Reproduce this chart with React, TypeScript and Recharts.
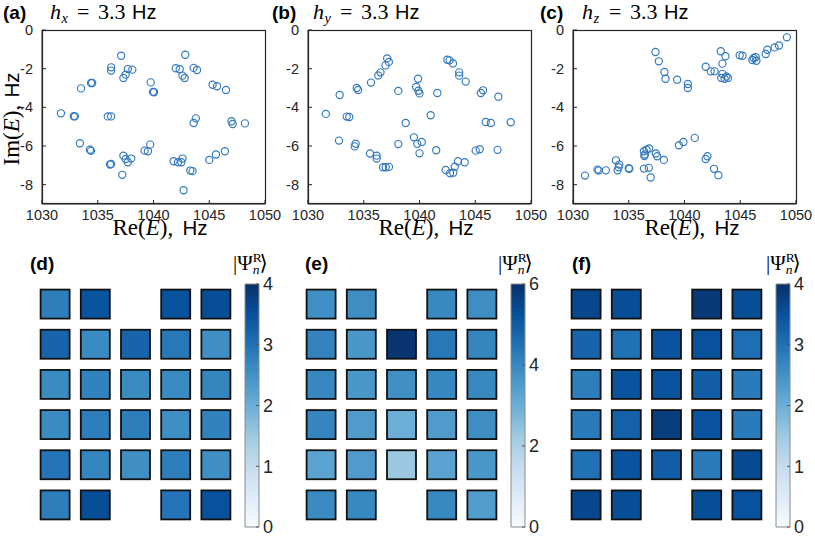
import React from 'react'
import { ScatterChart, Scatter, XAxis, YAxis, BarChart, Bar } from 'recharts'

// eigenvalues (Re E, Im E) in Hz
const hxSpectrum: [number, number][] = [
    [1037.1, -1.33], [1036.2, -1.93], [1036.2, -2.1], [1037.7, -2.02], [1038.1, -2.05], [1037.5, -2.31],
    [1037.3, -2.48], [1033.5, -3.02], [1034.4, -2.74], [1034.5, -2.74], [1039.75, -2.71], [1039.95, -3.2],
    [1040.05, -3.22], [1031.7, -4.31], [1032.85, -4.46], [1032.95, -4.47], [1035.9, -4.47], [1036.2, -4.47],
    [1033.4, -5.86], [1034.3, -6.19], [1034.4, -6.25], [1036.1, -6.96], [1036.2, -6.93], [1037.2, -7.49],
    [1037.3, -6.5], [1037.5, -6.67], [1037.7, -6.84], [1038.0, -6.65], [1039.2, -6.24], [1039.5, -6.27],
    [1039.7, -5.93], [1042.85, -1.28], [1042.0, -1.98], [1042.35, -2.03], [1042.6, -2.36], [1042.8, -2.48],
    [1043.6, -1.96], [1043.9, -2.07], [1045.3, -2.83], [1045.7, -2.91], [1046.5, -3.1], [1043.8, -4.57],
    [1043.6, -4.81], [1047.0, -4.72], [1047.1, -4.86], [1048.2, -4.83], [1041.8, -6.79], [1042.2, -6.84],
    [1042.5, -6.84], [1042.6, -6.65], [1043.3, -7.27], [1043.5, -7.3], [1042.7, -8.29], [1045.0, -6.72],
    [1045.6, -6.44], [1046.4, -6.27],
]

const hySpectrum: [number, number][] = [
    [1037.1, -1.47], [1037.25, -1.65], [1036.95, -1.83], [1036.5, -2.19], [1036.3, -2.35], [1035.65, -2.72],
    [1034.37, -3.0], [1034.5, -3.1], [1032.84, -3.36], [1031.6, -4.34], [1033.47, -4.48], [1033.7, -4.5],
    [1038.1, -3.15], [1038.76, -4.81], [1039.87, -2.52], [1039.7, -2.95], [1039.9, -3.14], [1040.0, -3.28],
    [1041.6, -3.26], [1041.0, -4.41], [1042.5, -1.54], [1042.7, -1.57], [1043.0, -1.73], [1043.56, -2.19],
    [1043.56, -2.36], [1044.14, -2.67], [1045.5, -3.26], [1045.7, -3.12], [1047.07, -3.45], [1045.94, -4.76],
    [1046.4, -4.81], [1048.18, -4.77], [1032.78, -5.72], [1034.27, -5.88], [1034.19, -6.02], [1035.56, -6.39],
    [1036.16, -6.5], [1036.16, -6.65], [1036.73, -7.1], [1036.97, -7.1], [1037.26, -7.08], [1038.1, -5.9],
    [1039.5, -5.55], [1039.8, -5.89], [1040.2, -5.79], [1040.0, -6.38], [1041.5, -6.22], [1042.35, -7.24],
    [1042.74, -7.41], [1043.03, -7.38], [1043.16, -7.07], [1043.45, -6.79], [1044.05, -6.84], [1045.04, -6.24],
    [1045.4, -6.17], [1047.0, -6.2],
]

const hzSpectrum: [number, number][] = [
    [1037.4, -1.14], [1037.7, -1.62], [1038.2, -2.17], [1038.3, -2.52], [1039.34, -2.57], [1040.3, -2.79],
    [1040.3, -3.0], [1041.9, -1.9], [1042.35, -2.14], [1042.7, -2.14], [1043.25, -1.1], [1043.67, -1.36],
    [1043.4, -1.74], [1043.4, -2.27], [1043.3, -2.48], [1043.76, -2.4], [1043.9, -2.48], [1043.6, -2.52],
    [1044.95, -1.31], [1045.2, -1.33], [1046.09, -1.55], [1046.38, -1.4], [1046.45, -1.59], [1046.2, -1.45],
    [1047.28, -1.24], [1047.43, -1.02], [1048.08, -0.9], [1048.47, -0.8], [1049.18, -0.38],
    [1031.07, -7.53], [1032.2, -7.22], [1032.3, -7.27], [1032.95, -7.26], [1033.85, -6.74], [1034.15, -6.96],
    [1034.0, -7.26], [1034.1, -7.1], [1035.0, -7.15], [1035.05, -7.18], [1036.36, -7.17], [1036.45, -6.44],
    [1036.4, -6.52], [1036.36, -6.27], [1036.6, -6.19], [1036.83, -6.13], [1036.8, -7.13], [1036.96, -7.63],
    [1037.43, -6.39], [1037.55, -6.53], [1038.15, -6.72], [1039.5, -5.96], [1039.9, -5.79], [1040.92, -5.58],
    [1041.9, -6.67], [1042.06, -6.53], [1042.65, -7.18], [1043.04, -7.51],
]

const reTicks = [1030, 1035, 1040, 1045, 1050]
const imTicks = [-8, -6, -4, -2, 0]

// |Psi_n^R> on the 6x5 lattice, null = no site
const ampX: (number | null)[][] = [
    [2.8, 3.45, null, 3.5, 3.55],
    [3.2, 2.6, 3.2, 2.9, 2.55],
    [2.6, 2.75, 2.6, 2.6, 2.7],
    [2.6, 2.8, 2.8, 2.55, 2.75],
    [2.95, 2.7, 2.55, 2.8, 2.55],
    [2.8, 3.55, null, 2.95, 3.5],
]
const ampY: (number | null)[][] = [
    [3.8, 3.85, null, 3.95, 3.85],
    [4.1, 3.6, 5.9, 4.35, 4.05],
    [4.0, 3.6, 3.8, 4.0, 3.95],
    [4.05, 3.5, 3.0, 3.5, 3.85],
    [3.3, 3.5, 2.3, 3.3, 3.6],
    [3.9, 3.95, null, 3.95, 3.45],
]
const ampZ: (number | null)[][] = [
    [3.65, 3.55, null, 3.85, 3.55],
    [3.2, 3.0, 3.45, 3.5, 3.05],
    [2.8, 3.45, 3.45, 3.3, 2.85],
    [2.85, 3.25, 3.8, 3.45, 2.85],
    [3.0, 3.45, 3.3, 2.85, 3.6],
    [3.65, 3.55, null, 3.55, 3.5],
]
const cbTicksX = [0, 1, 2, 3, 4]
const cbTicksY = [0, 2, 4, 6]
const cbTicksZ = [0, 1, 2, 3, 4]

const SERIF = '"Liberation Serif", "DejaVu Serif", serif'
const SANS = '"Liberation Sans", Arial, sans-serif'
const AX = '#262626'
const MARK = '#3178bd'
const BLUES = ['#f7fbff', '#deebf7', '#c6dbef', '#9ecae1', '#6baed6', '#4292c6', '#2171b5', '#08519c', '#08306b']

const hex = (c: string) => [1, 3, 5].map(i => parseInt(c.slice(i, i + 2), 16))
const blues = (t: number) => {
    const s = Math.max(0, Math.min(1, t)) * (BLUES.length - 1)
    const i = Math.min(Math.floor(s), BLUES.length - 2)
    const f = s - i
    const a = hex(BLUES[i]), b = hex(BLUES[i + 1])
    return `rgb(${a.map((v, k) => Math.round(v + (b[k] - v) * f)).join(',')})`
}

const ring = (p: any) => <circle cx={p.cx} cy={p.cy} r={3.6} fill="none" stroke={MARK} strokeWidth={1.15} />

const tickFont = { fill: AX, fontSize: 14.5, fontFamily: SANS }

const SpectrumPanel = ({ plotLeft, pts }: { plotLeft: number; pts: [number, number][] }) => {
    const data = pts.map(([re, im]) => ({ re, im }))
    const left = plotLeft - 42
    const width = Math.min(287, 815 - left)
    return (
        <div style={{ position: 'absolute', left, top: 0 }}>
            <ScatterChart width={width} height={250} margin={{ top: 30, right: width - 265, bottom: 0, left: 12 }}>
                <XAxis dataKey="re" type="number" domain={[1030, 1050]} ticks={reTicks} height={46}
                    interval={0} tickSize={-4} tickMargin={10} stroke={AX} tick={tickFont} allowDataOverflow />
                <YAxis dataKey="im" type="number" domain={[-9, 0]} ticks={imTicks} width={30}
                    interval={0} tickSize={-4} tickMargin={13} stroke={AX} tick={tickFont} allowDataOverflow />
                <XAxis xAxisId="t" orientation="top" type="number" domain={[1030, 1050]} ticks={reTicks} height={0}
                    interval={0} tickSize={-4} stroke={AX} tick={false} allowDataOverflow />
                <YAxis yAxisId="r" orientation="right" type="number" domain={[-9, 0]} ticks={imTicks} width={0}
                    interval={0} tickSize={-4} stroke={AX} tick={false} allowDataOverflow />
                <Scatter data={data} shape={ring} isAnimationActive={false} />
            </ScatterChart>
        </div>
    )
}

const HeatPanel = ({ left, grid, max, cbLeft, cbTicks, id }:
    { left: number; grid: (number | null)[][]; max: number; cbLeft: number; cbTicks: number[]; id: string }) => {
    const cells: { col: number; row: number; v: number }[] = []
    grid.forEach((r, i) => r.forEach((v, j) => { if (v != null) cells.push({ col: j + 1, row: i + 1, v }) }))
    const square = (p: any) => (
        <rect x={p.cx - 14.5} y={p.cy - 14.5} width={29} height={29} fill={blues(p.payload.v / max)}
            stroke="#111" strokeWidth={1.8} />
    )
    return (
        <>
            <div style={{ position: 'absolute', left: left - 5, top: 270 }}>
                <ScatterChart width={211} height={266} margin={{ top: 14, right: 5, bottom: 11, left: 5 }}>
                    <XAxis dataKey="col" type="number" domain={[0.5, 5.5]} hide />
                    <YAxis dataKey="row" type="number" domain={[0.5, 6.5]} reversed hide />
                    <Scatter data={cells} shape={square} isAnimationActive={false} />
                </ScatterChart>
            </div>
            <div style={{ position: 'absolute', left: cbLeft - 5, top: 270 }}>
                <BarChart width={44} height={266} data={[{ name: 'cb', v: max }]} barCategoryGap={0}
                    margin={{ top: 14, right: 0, bottom: 9, left: 5 }}>
                    <defs>
                        <linearGradient id={id} x1="0" y1="1" x2="0" y2="0">
                            {BLUES.map((c, i) => <stop key={i} offset={i / (BLUES.length - 1)} stopColor={c} />)}
                        </linearGradient>
                    </defs>
                    <XAxis dataKey="name" hide />
                    <YAxis orientation="right" type="number" domain={[0, max]} ticks={cbTicks} width={25}
                        interval={0} axisLine={false} tickSize={-3} tickMargin={7} stroke="#555"
                        tick={{ fill: AX, fontSize: 18, fontFamily: SANS }} />
                    <Bar dataKey="v" fill={`url(#${id})`} stroke="#8a8a8a" strokeWidth={1} isAnimationActive={false} />
                </BarChart>
            </div>
        </>
    )
}

const Title = ({ x, tag, h, sub }: { x: number; tag: string; h: number; sub: string }) => (
    <>
        <text x={x} y={19} fontFamily={SANS} fontWeight="bold" fontSize={19} fill="#000">({tag})</text>
        <text x={h} y={19} fontFamily={SERIF} fontSize={22} fill="#000">
            <tspan fontStyle="italic">h</tspan>
            <tspan x={h + 11.5} fontStyle="italic" fontSize={14.5} dy={4}>{sub}</tspan>
            <tspan x={h + 27} dy={-4}>=</tspan>
            <tspan x={h + 48}>3.3</tspan>
            <tspan x={h + 82} fontFamily={SANS} fontSize={20}>Hz</tspan>
        </text>
    </>
)

const ReLabel = ({ cx }: { cx: number }) => (
    <text x={cx - 47.5} y={235} fontFamily={SERIF} fontSize={23} fill="#000">
        Re(<tspan fontStyle="italic">E</tspan>),<tspan x={cx + 22.5} fontFamily={SANS} fontSize={20.5}>Hz</tspan>
    </text>
)

const PsiLabel = ({ x }: { x: number }) => (
    <text x={x} y={270} fontFamily={SERIF} fontSize={21} fill="#000">
        |Ψ<tspan fontSize={13.5} dy={-8}>R</tspan>
        <tspan fontSize={13.5} fontStyle="italic" dx={-9} dy={12}>n</tspan>
        <tspan dy={-4}>⟩</tspan>
    </text>
)

// plot-box outlines of the three spectra (matlab "box on")
const boxLefts = [42, 308, 573]

export default function App() {
    return (
        <div style={{ position: 'absolute', left: 0, top: 0, width: 815, height: 536, background: '#fff' }}>
            <SpectrumPanel plotLeft={42} pts={hxSpectrum} />
            <SpectrumPanel plotLeft={308} pts={hySpectrum} />
            <SpectrumPanel plotLeft={573} pts={hzSpectrum} />
            <HeatPanel left={35} grid={ampX} max={4} cbLeft={245} cbTicks={cbTicksX} id="cbx" />
            <HeatPanel left={301} grid={ampY} max={6} cbLeft={511} cbTicks={cbTicksY} id="cby" />
            <HeatPanel left={566} grid={ampZ} max={4} cbLeft={776} cbTicks={cbTicksZ} id="cbz" />
            <svg width={815} height={536} style={{ position: 'absolute', left: 0, top: 0 }}>
                {boxLefts.map(l => (
                    <rect key={l} x={l + 0.5} y={30.5} width={223} height={173} fill="#fff" fillOpacity={0.001}
                        stroke={AX} strokeWidth={1.2} />
                ))}
                <Title x={3} tag="a" h={50} sub="x" />
                <Title x={272} tag="b" h={313} sub="y" />
                <Title x={540} tag="c" h={582} sub="z" />
                <ReLabel cx={160} />
                <ReLabel cx={426} />
                <ReLabel cx={692} />
                <g transform="translate(19,118) rotate(-90)">
                    <text x={-47.5} y={0} fontFamily={SERIF} fontSize={23} fill="#000">
                        Im(<tspan fontStyle="italic">E</tspan>),<tspan x={20.5} fontFamily={SANS} fontSize={20.5}>Hz</tspan>
                    </text>
                </g>
                <text x={30} y={270} fontFamily={SANS} fontWeight="bold" fontSize={19}>(d)</text>
                <text x={305} y={270} fontFamily={SANS} fontWeight="bold" fontSize={19}>(e)</text>
                <text x={572} y={270} fontFamily={SANS} fontWeight="bold" fontSize={19}>(f)</text>
                <PsiLabel x={233} />
                <PsiLabel x={498} />
                <PsiLabel x={766} />
            </svg>
        </div>
    )
}
